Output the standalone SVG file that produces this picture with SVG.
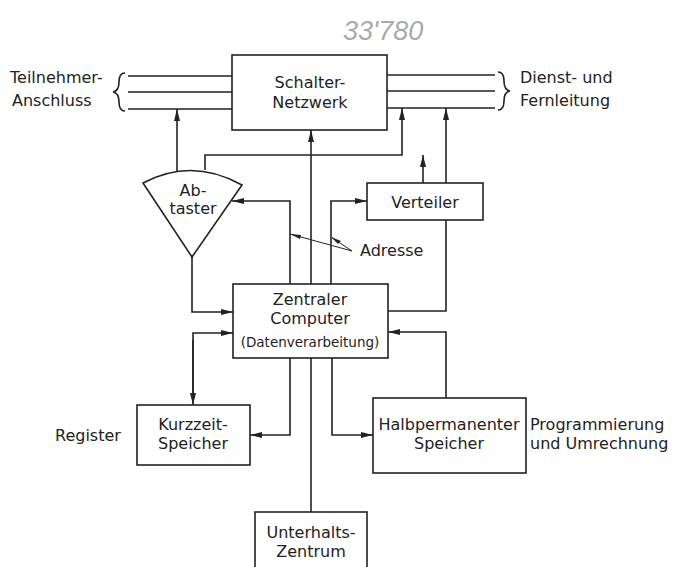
<svg xmlns="http://www.w3.org/2000/svg" width="679" height="567" viewBox="0 0 679 567">
<defs>
<marker id="ah" viewBox="0 0 12 6" refX="12" refY="3" markerWidth="12" markerHeight="6" markerUnits="userSpaceOnUse" orient="auto">
<path d="M0,0 L12,3 L0,6 z" fill="#222"/>
</marker>
</defs>
<style>
.b{fill:#fff;stroke:#222;stroke-width:1.6}
.l{fill:none;stroke:#222;stroke-width:1.6}
.t{font-family:"DejaVu Sans","Liberation Sans",sans-serif;font-size:16px;fill:#222}
.m{text-anchor:middle}
.s{font-size:13.5px}
.a{marker-end:url(#ah)}
</style>
<rect width="679" height="567" fill="#fff"/>
<text x="343" y="40" style="font-family:'Liberation Sans',sans-serif;font-size:27px;font-style:italic;fill:#aaa">33'780</text>

<g id="connectors">
<path class="l" d="M128,76H232M128,92H232M128,109H232"/>
<path class="l" d="M125,73Q119,73 119,82Q119,91 113,92Q119,93 119,102Q119,111 125,111"/>
<path class="l" d="M387,75H495M387,91H495M387,108H495"/>
<path class="l" d="M498,72Q504,72 504,81Q504,90 510,91Q504,92 504,101Q504,110 498,110"/>
<path class="l a" d="M177,171V109"/>
<path class="l a" d="M205,170V155H402V108"/>
<path class="l a" d="M311,284V130"/>
<path class="l" d="M311,512V358"/>
<path class="l a" d="M290,284V201H232"/>
<path class="l a" d="M331,284V201H367"/>
<path class="l a" d="M423,183V155"/>
<path class="l" d="M388,311H446V220"/>
<path class="l a" d="M446,183V108"/>
<path class="l a" d="M446,398V332H388"/>
<path class="l a" d="M192,257V312H233"/>
<path class="l a" d="M193,393V333H233"/>
<path class="l a" d="M193,340V405"/>
<path class="l a" d="M290,358V435H250"/>
<path class="l a" d="M332,358V435H373"/>
<path fill="none" stroke="#222" stroke-width="1" d="M352,251L290,234M352,251L331,237"/>
<path d="M290,234L301,235L300,239z" fill="#222"/>
<path d="M331,237L341,241L338,244z" fill="#222"/>
</g>

<g id="schalter">
<rect class="b" x="232" y="55" width="155" height="75"/>
<text class="t m" x="310" y="88">Schalter-</text>
<text class="t m" x="310" y="108">Netzwerk</text>
</g>

<g id="abtaster">
<path class="b" d="M143,183Q192,157 242,185L192,257Z"/>
<text class="t m" x="193" y="196">Ab-</text>
<text class="t m" x="193" y="214">taster</text>
</g>

<g id="verteiler">
<rect class="b" x="367" y="183" width="116" height="37"/>
<text class="t m" x="425" y="208">Verteiler</text>
</g>

<g id="computer">
<rect class="b" x="233" y="284" width="155" height="74"/>
<text class="t m" x="310" y="305">Zentraler</text>
<text class="t m" x="310" y="324">Computer</text>
<text class="t m s" x="310" y="347">(Datenverarbeitung)</text>
</g>

<g id="kurzzeit">
<rect class="b" x="137" y="405" width="113" height="60"/>
<text class="t m" x="193" y="430">Kurzzeit-</text>
<text class="t m" x="193" y="449">Speicher</text>
</g>

<g id="halbperm">
<rect class="b" x="373" y="398" width="153" height="75"/>
<text class="t m" x="449" y="430">Halbpermanenter</text>
<text class="t m" x="449" y="449">Speicher</text>
</g>

<g id="unterhalt">
<rect class="b" x="255" y="512" width="112" height="60"/>
<text class="t m" x="311" y="538">Unterhalts-</text>
<text class="t m" x="311" y="557">Zentrum</text>
</g>

<g id="labels">
<text class="t" x="10" y="83">Teilnehmer-</text>
<text class="t" x="12" y="106">Anschluss</text>
<text class="t" x="520" y="83">Dienst- und</text>
<text class="t" x="520" y="106">Fernleitung</text>
<text class="t" x="360" y="256">Adresse</text>
<text class="t" x="55" y="441">Register</text>
<text class="t" x="530" y="430">Programmierung</text>
<text class="t" x="530" y="449">und Umrechnung</text>
</g>
</svg>
